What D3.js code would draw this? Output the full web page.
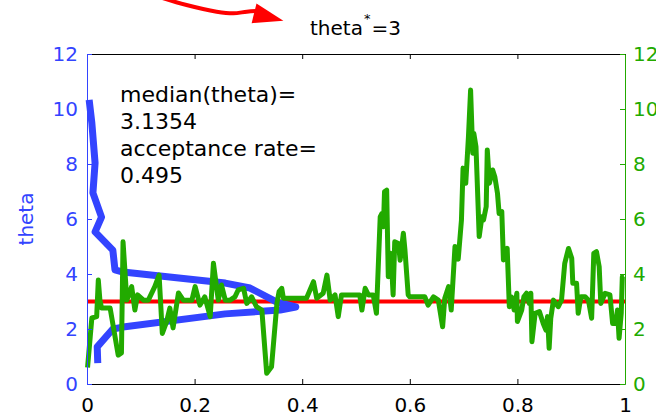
<!DOCTYPE html>
<html>
<head>
<meta charset="utf-8">
<script src="https://cdn.jsdelivr.net/npm/d3@7"></script>
<style>
    body { margin: 0; background: #fff; }
    svg { display: block; font-family: 'DejaVu Sans', sans-serif; }
</style>
</head>
<body>
<svg width="656" height="416"></svg>
<script>
// tick labels
const xTicks = [0, 0.2, 0.4, 0.6, 0.8, 1];
const yTicks = [0, 2, 4, 6, 8, 10, 12];

// true value
const thetaStar = 3;

// MCMC trace: [fraction of iterations, theta]
const trace = [
    [0.001, 0.6], [0.006, 1.72], [0.009, 2.4], [0.018, 2.45], [0.021, 3.78], [0.024, 3.05],
    [0.027, 2.76], [0.043, 2.76], [0.058, 1.05], [0.064, 1.13], [0.067, 5.17], [0.074, 3.05],
    [0.083, 3.54], [0.089, 2.69], [0.094, 3.24], [0.105, 3.05], [0.114, 3.05], [0.126, 3.54],
    [0.134, 3.96], [0.14, 1.84], [0.148, 2.27], [0.154, 2.76], [0.16, 2.04], [0.17, 3.31],
    [0.179, 3.05], [0.195, 3.05], [0.201, 3.54], [0.21, 2.87], [0.219, 3.17], [0.229, 2.45],
    [0.235, 4.39], [0.244, 3.05], [0.25, 3.6], [0.257, 3.05], [0.266, 3.05], [0.275, 3.17],
    [0.281, 3.42], [0.291, 3.48], [0.297, 2.93], [0.306, 3.17], [0.315, 2.81], [0.325, 2.69],
    [0.334, 0.39], [0.343, 0.63], [0.353, 2.93], [0.357, 3.36], [0.362, 3.48], [0.365, 3.12],
    [0.408, 3.12], [0.421, 3.72], [0.427, 3.12], [0.439, 3.3], [0.446, 3.96], [0.452, 3.05],
    [0.461, 3.24], [0.467, 2.45], [0.473, 3.24], [0.507, 3.24], [0.511, 2.69], [0.517, 3.48],
    [0.523, 3.24], [0.532, 3.24], [0.538, 2.57], [0.545, 6.08], [0.548, 6.2], [0.551, 5.72],
    [0.553, 6.99], [0.557, 7.05], [0.56, 3.9], [0.565, 4.75], [0.569, 3.24], [0.572, 5.17],
    [0.579, 5.11], [0.582, 4.5], [0.588, 5.48], [0.591, 4.87], [0.597, 3.24], [0.6, 3.17],
    [0.628, 3.17], [0.634, 2.87], [0.644, 3.17], [0.653, 3.05], [0.661, 2.08], [0.665, 3.12],
    [0.672, 3.54], [0.677, 2.69], [0.684, 5.0], [0.69, 4.54], [0.696, 5.96], [0.699, 7.85],
    [0.704, 7.3], [0.709, 8.99], [0.713, 10.69], [0.717, 8.39], [0.719, 9.11], [0.723, 8.63],
    [0.729, 5.36], [0.734, 6.08], [0.737, 5.96], [0.742, 6.45], [0.744, 8.51], [0.748, 7.3],
    [0.754, 7.78], [0.758, 7.54], [0.763, 6.93], [0.766, 6.2], [0.771, 6.27], [0.774, 4.51],
    [0.781, 4.93], [0.785, 2.81], [0.789, 3.17], [0.794, 2.69], [0.799, 3.3], [0.8, 2.27],
    [0.808, 2.69], [0.812, 3.17], [0.817, 3.3], [0.822, 2.93], [0.825, 3.3], [0.827, 1.54],
    [0.833, 2.57], [0.841, 2.63], [0.848, 2.2], [0.853, 1.96], [0.856, 2.45], [0.859, 1.3],
    [0.862, 2.39], [0.867, 3.05], [0.876, 2.81], [0.882, 3.05], [0.888, 4.39], [0.895, 4.93],
    [0.901, 4.57], [0.903, 3.66], [0.91, 3.66], [0.913, 2.57], [0.918, 3.17], [0.926, 3.17],
    [0.932, 3.05], [0.938, 2.39], [0.942, 4.75], [0.947, 4.81], [0.952, 4.27], [0.955, 2.93],
    [0.963, 3.3], [0.972, 3.24], [0.977, 2.2], [0.983, 2.2], [0.986, 2.69], [0.989, 1.66],
    [0.993, 2.57], [0.995, 3.9], [0.998, 3.9],
];

// posterior density drawn sideways: [density, theta]
const density = [
    [0.004, 10.33], [0.009, 9.49], [0.015, 8.04], [0.011, 6.95], [0.027, 6.07], [0.015, 5.53],
    [0.048, 4.87], [0.052, 4.15], [0.067, 4.07], [0.257, 3.67], [0.303, 3.49], [0.353, 2.98],
    [0.388, 2.8], [0.359, 2.69], [0.257, 2.55], [0.067, 2.07], [0.048, 2.0], [0.019, 1.35],
    [0.02, 0.76],
];

// annotation arrow (in axis units)
const arrowLine = [[0.117, 14.18], [0.185, 13.78], [0.241, 13.54], [0.272, 13.48], [0.297, 13.54], [0.314, 13.56]];
const arrowHead = [[0.315, 13.84], [0.365, 13.21], [0.306, 13.12]];

const infoLines = ['median(theta)=', '3.1354', 'acceptance rate=', '0.495'];

const BLUE = '#3344ff';
const GREEN = '#22aa00';

const svg = d3.select('svg');
const x = d3.scaleLinear().domain([0, 1]).range([87, 625]);
const y = d3.scaleLinear().domain([0, 12]).range([384, 54]);

const line = d3.line().x((d) => x(d[0])).y((d) => y(d[1]));

// theta* line
svg.append('path')
    .attr('d', line([[0, thetaStar], [1, thetaStar]]))
    .attr('fill', 'none')
    .attr('stroke', '#ff0000')
    .attr('stroke-width', 4);

// density
svg.append('path')
    .attr('d', line(density))
    .attr('fill', 'none')
    .attr('stroke', BLUE)
    .attr('stroke-width', 7)
    .attr('stroke-linejoin', 'round');

// trace
svg.append('path')
    .attr('d', line(trace))
    .attr('fill', 'none')
    .attr('stroke', GREEN)
    .attr('stroke-width', 5)
    .attr('stroke-linejoin', 'round');

// axes (ticks point inwards)
function styleAxis(g, color) {
    g.select('.domain').attr('stroke', color).attr('stroke-width', 1);
    g.selectAll('.tick line').attr('stroke', color);
    g.selectAll('.tick text')
        .attr('fill', color)
        .style('font-size', '20px')
        .style('font-family', "'DejaVu Sans', sans-serif");
}

svg.append('g')
    .attr('transform', 'translate(0,54)')
    .call(d3.axisTop(x).tickValues(xTicks).tickSizeInner(-5).tickSizeOuter(0).tickFormat(''))
    .call((g) => styleAxis(g, '#000'));

svg.append('g')
    .attr('transform', 'translate(0,384)')
    .call(d3.axisBottom(x).tickValues(xTicks).tickSizeInner(-5).tickSizeOuter(0).tickPadding(14).tickFormat((d) => String(d)))
    .call((g) => styleAxis(g, '#000'));

svg.append('g')
    .attr('transform', 'translate(87,0)')
    .call(d3.axisLeft(y).tickValues(yTicks).tickSizeInner(-5).tickSizeOuter(0).tickPadding(9))
    .call((g) => styleAxis(g, BLUE));

svg.append('g')
    .attr('transform', 'translate(625,0)')
    .call(d3.axisRight(y).tickValues(yTicks).tickSizeInner(-5).tickSizeOuter(0).tickPadding(8))
    .call((g) => styleAxis(g, GREEN));

// y label
svg.append('text')
    .attr('transform', 'translate(33,219) rotate(-90)')
    .attr('text-anchor', 'middle')
    .attr('fill', BLUE)
    .style('font-size', '20px')
    .text('theta');

// info text
svg.append('g')
    .selectAll('text')
    .data(infoLines)
    .join('text')
    .attr('x', 120)
    .attr('y', (d, i) => 102 + i * 27)
    .attr('fill', '#000')
    .style('font-size', '22px')
    .text((d) => d);

// title with superscript
const title = svg.append('text')
    .attr('x', 310)
    .attr('y', 35)
    .attr('fill', '#000')
    .style('font-size', '20px');
title.append('tspan').text('theta');
title.append('tspan').attr('dy', -12).attr('dx', 1).style('font-size', '13px').text('*');
title.append('tspan').attr('dy', 12).attr('dx', 1).text('=3');

// red arrow pointing at the title
svg.append('path')
    .attr('d', line.curve(d3.curveCatmullRom)(arrowLine))
    .attr('fill', 'none')
    .attr('stroke', '#ff0000')
    .attr('stroke-width', 4);
line.curve(d3.curveLinear);
svg.append('path')
    .attr('d', line(arrowHead) + 'Z')
    .attr('fill', '#ff0000');
</script>
</body>
</html>
